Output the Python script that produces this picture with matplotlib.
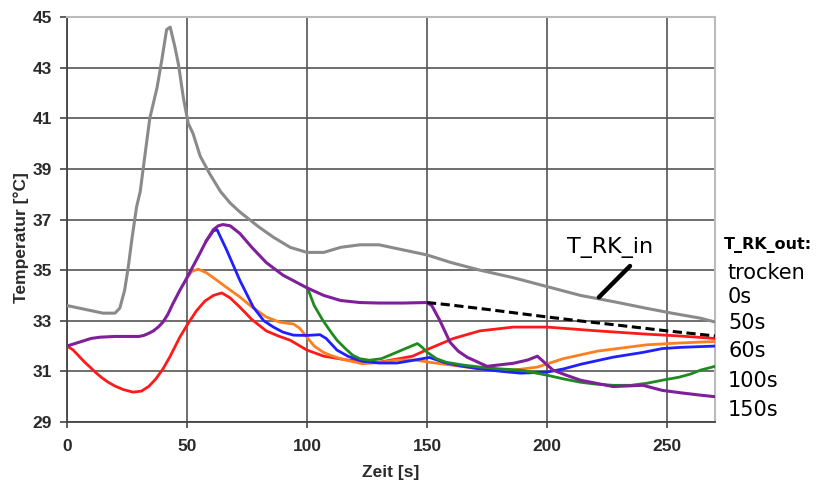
import matplotlib.pyplot as plt

# T_RK_in (grau)
t_in = [0, 5, 10, 15, 20, 22, 24, 25.5, 27, 29, 30.5, 32, 34.5, 37.5, 39.5, 41.5, 43, 45, 46.5,
        48.5, 50.5, 52.5, 55.5, 59.5, 64, 68, 72, 76, 80, 86, 93, 100, 107, 114, 122, 130, 140,
        150, 160, 172, 186, 200, 214, 228, 241, 252, 264, 270]
T_in = [33.6, 33.5, 33.4, 33.3, 33.3, 33.5, 34.2, 35.1, 36.2, 37.5, 38.1, 39.2, 41.0, 42.2, 43.3,
        44.5, 44.6, 43.8, 43.1, 41.8, 40.8, 40.4, 39.5, 38.8, 38.1, 37.65, 37.3, 37.0, 36.7, 36.3,
        35.9, 35.7, 35.7, 35.9, 36.0, 36.0, 35.8, 35.6, 35.3, 35.0, 34.7, 34.35, 34.0, 33.75,
        33.5, 33.3, 33.1, 32.95]

# T_RK_out, 0s
t_0 = [0, 2.5, 5, 7.5, 9.6, 12, 14.5, 17, 20, 23.5, 27.5, 31, 34, 37, 40, 43, 47, 50.5, 54,
       57.5, 61, 64.5, 68, 72, 77, 83, 88, 93, 100, 107, 116.6, 130, 144, 151, 161, 172, 186,
       200, 221, 241.6, 255, 270]
T_0 = [32.0, 31.85, 31.6, 31.35, 31.17, 30.95, 30.75, 30.58, 30.42, 30.28, 30.18, 30.22, 30.4,
       30.7, 31.1, 31.6, 32.35, 32.9, 33.4, 33.78, 34.0, 34.1, 33.9, 33.54, 33.05, 32.6, 32.4,
       32.23, 31.84, 31.6, 31.45, 31.36, 31.6, 31.9, 32.3, 32.6, 32.75, 32.75, 32.6, 32.47,
       32.4, 32.3]

# 50s
t_50 = [50, 52, 54.6, 58, 61, 66, 72, 77, 83, 88.75, 94.4, 97, 101, 103, 106.7, 109.6, 114, 123,
        130, 137.5, 145, 151, 160, 172, 186, 196, 206.7, 221, 241.6, 255, 270]
T_50 = [34.7, 34.95, 35.04, 34.9, 34.7, 34.35, 33.94, 33.55, 33.15, 32.94, 32.87, 32.7, 32.23,
        32.0, 31.76, 31.64, 31.5, 31.3, 31.35, 31.45, 31.45, 31.36, 31.25, 31.1, 31.05, 31.17,
        31.5, 31.8, 32.05, 32.12, 32.18]

# 60s
t_60 = [58, 61, 62.5, 66.5, 72, 77.6, 82, 86, 90, 94.4, 100, 105.4, 108, 112.5, 117, 123, 130,
        137.5, 145, 151, 158, 165, 172, 181, 189, 200, 207, 214, 227.5, 240, 248, 256, 270]
T_60 = [36.15, 36.55, 36.6, 35.8, 34.6, 33.54, 33.0, 32.75, 32.55, 32.43, 32.42, 32.45, 32.3,
        31.84, 31.6, 31.4, 31.33, 31.33, 31.45, 31.55, 31.33, 31.2, 31.1, 31.0, 30.93, 30.97,
        31.1, 31.28, 31.56, 31.75, 31.9, 31.95, 32.0]

# 100s
t_100 = [100, 101, 103, 106.7, 110, 112.5, 116, 119, 122, 126, 131, 136, 141, 146, 148, 150, 154,
         158, 165, 172, 180, 189, 200, 207, 214, 220, 227.5, 235, 241.6, 248, 255, 260, 264, 270]
T_100 = [34.3, 34.1, 33.6, 33.0, 32.55, 32.23, 31.9, 31.64, 31.5, 31.44, 31.5, 31.7, 31.9, 32.1,
         31.95, 31.76, 31.5, 31.36, 31.25, 31.17, 31.1, 31.05, 30.85, 30.7, 30.57, 30.5, 30.45,
         30.45, 30.53, 30.65, 30.77, 30.9, 31.05, 31.2]

# 150s
t_150 = [0, 5, 10, 13.75, 20, 30, 32, 34, 36, 38, 40, 42, 44, 47, 50, 55.4, 58, 61, 63, 65, 68,
         72, 77, 83, 90, 100, 107, 114, 122, 130, 140, 150, 152, 155.4, 159.6, 163, 166.7, 175,
         186, 192, 196, 202.5, 208, 214, 227.5, 240, 248, 256, 264, 270]
T_150 = [32.0, 32.15, 32.3, 32.35, 32.38, 32.38, 32.42, 32.5, 32.6, 32.75, 32.95, 33.25, 33.65,
         34.2, 34.7, 35.67, 36.15, 36.6, 36.75, 36.8, 36.75, 36.45, 35.9, 35.3, 34.8, 34.3, 34.0,
         33.8, 33.72, 33.7, 33.7, 33.72, 33.6, 33.0, 32.15, 31.8, 31.56, 31.2, 31.32, 31.45,
         31.6, 31.05, 30.85, 30.65, 30.4, 30.45, 30.25, 30.15, 30.06, 30.0]

# trocken (gestrichelt)
t_dry = [150, 160, 175, 190, 200, 215, 230, 250, 270]
T_dry = [33.72, 33.62, 33.45, 33.27, 33.15, 32.98, 32.82, 32.6, 32.4]

legend_labels = ["trocken", "0s", "50s", "60s", "100s", "150s"]
legend_y_px = [273, 297, 323, 351, 381, 410]

W, H = 819, 482
fig = plt.figure(figsize=(W / 100, H / 100), dpi=100)
ax = fig.add_axes([67 / W, 1 - 422 / H, (715 - 67) / W, (422 - 17) / H])

tick_font = dict(family="Liberation Sans", weight="bold", size=12.5, color="#2a2a2a")

ax.plot(t_in, T_in, color="#8a8a8a", lw=2.2, zorder=3)
ax.plot(t_0, T_0, color="#ff1a1a", lw=2, zorder=3)
ax.plot(t_50, T_50, color="#ff7f20", lw=2, zorder=3)
ax.plot(t_60, T_60, color="#1f1fff", lw=2, zorder=3)
ax.plot(t_100, T_100, color="#1f8a1f", lw=2, zorder=3)
ax.plot(t_150, T_150, color="#7f1f9a", lw=2.2, zorder=3)
ax.plot(t_dry, T_dry, color="black", lw=2.2, ls=(0, (3, 1.5)), zorder=4)

ax.set_xlim(0, 270)
ax.set_ylim(29, 45)
ax.set_xticks(range(0, 251, 50))
ax.set_yticks(range(29, 46, 2))
for lab in ax.get_xticklabels() + ax.get_yticklabels():
    lab.set(**tick_font)
ax.tick_params(axis="y", direction="out", length=5, width=1.2, color="#444444", pad=6)
ax.tick_params(axis="x", direction="out", length=4, width=1.2, color="#444444", pad=8)
ax.grid(True, color="#555555", lw=1.2)
ax.set_axisbelow(True)
for s in ["left", "bottom"]:
    ax.spines[s].set_color("#444444")
    ax.spines[s].set_linewidth(1.3)
for s in ["top", "right"]:
    ax.spines[s].set_color("#bbbbbb")
    ax.spines[s].set_linewidth(1.5)

# Beschriftung T_RK_in mit Zeigerlinie
ax.text(208.3, 35.67, "T_RK_in", fontsize=16, family="DejaVu Sans", va="baseline", ha="left")
ax.annotate("", xy=(220.8, 33.85), xytext=(235.4, 35.24),
            arrowprops=dict(arrowstyle="-", lw=3.2, color="black"), zorder=5)

fig.text(391 / W, 1 - 472 / H, "Zeit [s]", ha="center", va="center", **tick_font)
fig.text(21 / W, 1 - 238 / H, "Temperatur [°C]", ha="center", va="center", rotation=90,
         **tick_font)

fig.text(724 / W, 1 - 245 / H, "T_RK_out:", ha="left", va="center", fontsize=11.5,
         weight="bold", family="DejaVu Sans")
for lab, ypx in zip(legend_labels, legend_y_px):
    fig.text(728 / W, 1 - ypx / H, lab, ha="left", va="center", fontsize=15,
             family="DejaVu Sans")

fig.savefig("out.png", dpi=100)
